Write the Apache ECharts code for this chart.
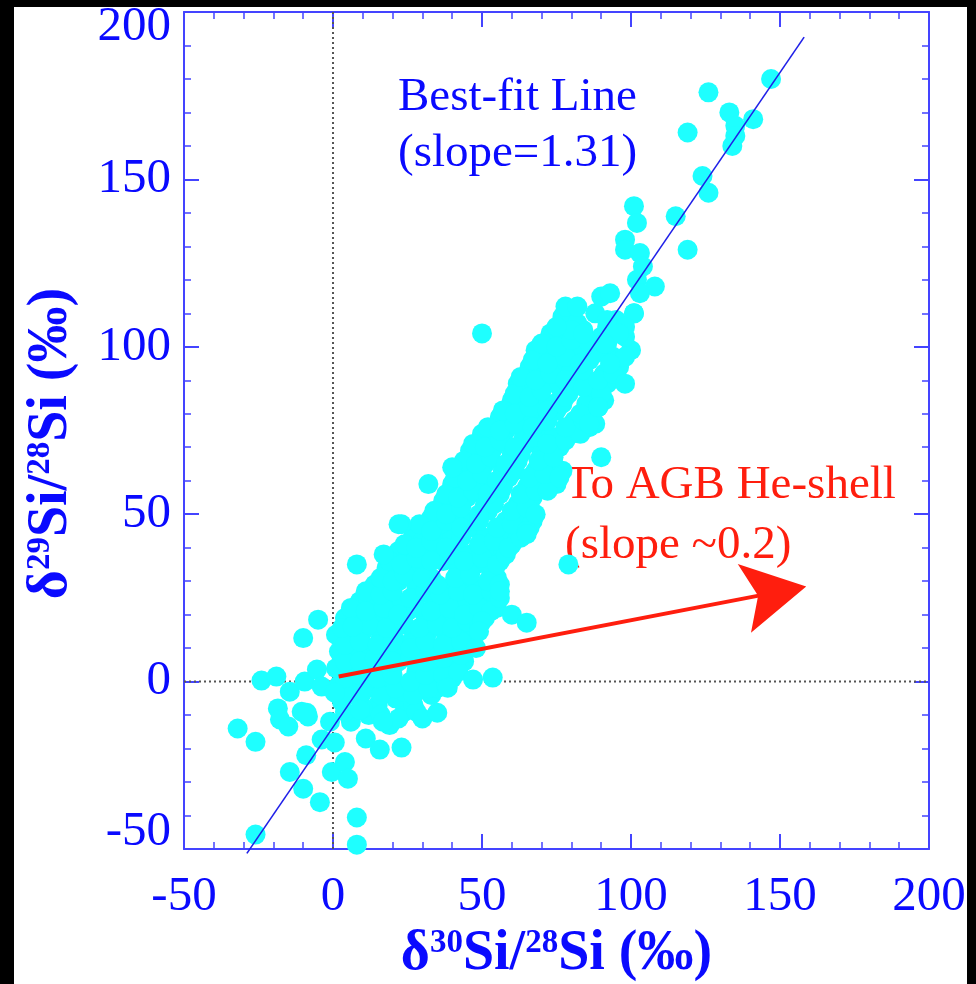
<!DOCTYPE html>
<html>
<head>
<meta charset="utf-8">
<script src="https://cdn.jsdelivr.net/npm/echarts@6/dist/echarts.min.js"></script>
<style>
html,body{margin:0;padding:0;background:#000;width:976px;height:984px;overflow:hidden;}
#c{position:absolute;left:14px;top:7px;width:953px;height:977px;background:#fff;}
</style>
</head>
<body>
<div id="c"></div>
<script>
// ---- data (per mil) ----
const xTicks = [-50, 0, 50, 100, 150, 200];
const yTicks = [-50, 0, 50, 100, 150, 200];

const coreGrains = [
[6,-12],[12,-10],[19,-13],[24,-9],[3,-6],[9,-5],[15,-7],[21,-5],[27,-7],[33,-4],
[2,-1],[7,-2],[13,-1],[18,0],[24,-3],[30,-1],[35,-2],[40,1],
[1,4],[6,3],[11,5],[17,3],[22,6],[28,3],[33,5],[39,4],[44,6],
[2,9],[7,8],[12,10],[18,8],[23,11],[29,8],[34,10],[40,9],[46,11],
[1,14],[5,12],[10,15],[16,13],[21,16],[27,13],[32,15],[38,13],[43,16],[47,13],
[4,19],[9,18],[14,20],[20,18],[25,21],[31,18],[36,20],[42,18],[47,21],[51,19],
[9,24],[13,22],[18,25],[23,23],[29,26],[34,23],[40,25],[45,23],[51,24],[55,22],
[14,29],[18,27],[22,30],[28,28],[33,31],[39,28],[44,30],[50,28],[55,31],
[18,34],[21,32],[26,35],[31,33],[37,36],[42,33],[48,35],[53,33],[56,36],
[22,39],[25,37],[30,40],[35,38],[41,41],[46,38],[52,40],[57,38],[60,41],
[27,44],[30,42],[35,45],[40,43],[46,46],[51,43],[57,45],[62,43],[66,46],
[33,49],[36,47],[41,50],[47,48],[52,51],[58,48],[63,50],[67,48],
[37,54],[40,52],[45,55],[51,53],[56,56],[62,53],[67,55],[69,58],
[40,59],[43,57],[48,60],[54,58],[59,61],[65,58],[70,60],[75,59],
[43,64],[46,62],[51,65],[57,63],[62,66],[68,63],[73,65],[77,63],
[46,69],[49,67],[54,70],[60,68],[65,71],[70,68],[76,70],
[50,74],[53,72],[58,75],[64,73],[69,76],[74,73],[80,74],[86,76],
[56,79],[59,77],[64,80],[70,78],[75,81],[81,78],[87,80],
[60,84],[63,82],[68,85],[74,83],[79,86],[85,83],[91,84],
[62,89],[65,87],[71,90],[76,88],[82,91],[87,88],[92,89],
[66,94],[69,92],[75,95],[80,93],[86,96],[91,92],[96,94],
[68,99],[72,97],[77,100],[83,98],[88,101],[94,97],[100,99],
[73,104],[78,102],[84,105],[90,103],[96,106],
[77,109],[82,107],[88,110],[95,108],[101,110]
];

const coreGrainsFill = [
[4,-9],[10,-8],[16,-10],[22,-11],[28,-9],
[5,-4],[10,-3],[16,-4],[21,-2],[27,-4],[32,-2],[38,-1],
[4,1],[9,2],[15,1],[20,2],[26,0],[31,2],[37,2],[42,3],
[4,6],[9,6],[14,7],[20,6],[26,7],[31,6],[37,7],[43,8],
[4,11],[9,12],[15,11],[20,12],[26,10],[31,12],[37,11],[43,12],[48,10],
[3,16],[7,17],[12,17],[18,16],[24,17],[29,16],[35,17],[40,16],[45,18],[49,17],
[6,22],[11,21],[17,22],[22,20],[28,22],[33,21],[39,22],[44,20],[49,22],[53,21],
[11,27],[16,26],[20,27],[26,25],[31,27],[36,26],[42,27],[47,26],[53,27],[56,25],
[16,31],[20,30],[24,32],[30,31],[35,29],[41,31],[46,32],[52,30],[56,29],
[19,36],[23,35],[28,37],[33,36],[39,38],[44,36],[50,37],[55,35],[58,38],
[24,41],[28,40],[33,42],[38,40],[43,43],[49,41],[54,42],[59,40],[63,43],
[29,47],[33,45],[38,48],[43,46],[49,48],[55,46],[60,47],[65,45],
[34,51],[38,50],[43,52],[49,50],[54,53],[60,51],[65,52],[68,50],
[38,56],[42,55],[47,57],[52,56],[57,58],[63,56],[68,57],[72,57],
[41,61],[45,60],[50,62],[55,60],[61,63],[66,61],[71,62],[76,61],
[44,66],[48,65],[53,67],[58,65],[63,68],[69,66],[74,67],
[47,71],[51,70],[56,72],[61,70],[67,73],[72,71],[78,72],[83,74],
[52,76],[56,75],[61,77],[67,76],[72,78],[78,76],[84,78],[88,77],
[57,81],[61,80],[66,82],[72,81],[77,83],[83,80],[89,82],
[61,86],[66,85],[70,87],[78,85],[84,88],[90,86],
[63,91],[68,90],[73,92],[78,90],[84,93],[89,90],[94,92],
[67,96],[72,95],[78,97],[83,95],[88,98],[93,96],[98,97],
[70,101],[75,100],[80,102],[86,101],[92,101],[98,103],
[80,105],[92,106]
];

const upperGrains = [
[147,180],[126,176],[133,170],[141,168],[135,166],[135,163],[134,160],[119,164],
[124,151],[126,146],[101,142],[115,139],[102,137],[119,129],[98,132],[98,129],
[103,128],[104,124],[102,120],[108,118],[103,116],[101,110],[90,115],[93,116],
[78,112],[82,112],[75,106],[84,104],[98,106],[92,108],[96,104],[91,101],[98,89],
[90,67],[65,44],[79,35],[50,104],[32,59],[23,47],[40,64],[8,35],[17,38],[22,47],
[86,77],[89,82],[93,95]
];

const lowerGrains = [
[-5,18.5],[-10,13],[-24,0.3],[-19,1.5],[-14.5,-3],[-9.5,0],[-5.4,3.6],[-3.8,-1.5],
[0.6,-3.3],[-18.5,-8],[-17.8,-11.3],[-15,-13.4],[-10.5,-9],[-8.4,-10.4],[-32,-14],
[-26,-18],[-1,-12],[-3.8,-17.3],[0.6,-18.2],[-9,-22],[-14.5,-27],[-10,-32],[-4.4,-36],
[-0.4,-27],[4,-24],[5,-29],[8,-40.6],[8,-48.7],[-26,-45.7],[11,-17],[15.7,-20.3],
[23,-19.7],[30,-11],[35,-9.3],[6.6,16.4],[9,-8.4],[16.7,-12],[47,0.6],[53.6,1.2],
[60,20],[65,17.6],[56,27],[50,18],[49,15],[38.5,-1.8],[-8.8,-9.3]
];

const fitLine = [[-28.9,-51.3],[158.1,192.5]];
const heShellArrow = [[1.9,1.5,158.8,28.4]];
const zeroV = [[0,-50],[0,200]];
const zeroH = [[-50,0],[200,0]];

// ---- styling ----
const BLUE = '#0a0aff';
const AXIS = '#4444ff';
const RED = '#ff1e0e';
const FONT = '"Liberation Serif", "Times New Roman", serif';

const chart = echarts.init(document.getElementById('c'), null, {renderer: 'canvas'});

function axisCommon(showLabels){
  return {
    type: 'value', min: -50, max: 200, interval: 50,
    axisLine: {show: true, onZero: false, lineStyle: {color: AXIS, width: 2}},
    axisTick: {show: true, inside: true, length: 15, lineStyle: {color: AXIS, width: 2}},
    minorTick: {show: true, splitNumber: 5, length: 7, lineStyle: {color: AXIS, width: 1.5}},
    splitLine: {show: false},
    minorSplitLine: {show: false},
    axisLabel: {show: showLabels}
  };
}

const titleRich = {
  b: {fontFamily: FONT, fontSize: 56, fontWeight: 'bold', color: BLUE},
  s: {fontFamily: FONT, fontSize: 33, fontWeight: 'bold', color: BLUE, verticalAlign: 'top'}
};

const xBottom = Object.assign(axisCommon(true), {
  position: 'bottom',
  axisLabel: {show: true, color: BLUE, fontFamily: FONT, fontSize: 49, margin: 24},
  name: '{b|δ}{s|30}{b|Si/}{s|28}{b|Si (‰)}',
  nameLocation: 'middle', nameGap: 78,
  nameTextStyle: {rich: titleRich}
});
const xTop = Object.assign(axisCommon(false), {position: 'top'});

const yLeft = Object.assign(axisCommon(true), {
  position: 'left',
  axisLabel: {
    show: true, color: BLUE, fontFamily: FONT, fontSize: 49, margin: 13,
    formatter: function (v) {
      if (v === 200) return '{t|' + v + '}';
      if (v === -50) return '{m|' + v + '}';
      return String(v);
    },
    rich: {
      t: {fontFamily: FONT, fontSize: 49, color: BLUE, padding: [30, 0, 0, 0]},
      m: {fontFamily: FONT, fontSize: 49, color: BLUE, padding: [0, 0, 34, 0]}
    }
  },
  name: '{b|δ}{s|29}{b|Si/}{s|28}{b|Si (‰)}',
  nameLocation: 'middle', nameGap: 104,
  nameTextStyle: {rich: titleRich, padding: [0, 26, 0, 0]}
});
const yRight = Object.assign(axisCommon(false), {position: 'right'});

const option = {
  animation: false,
  backgroundColor: '#ffffff',
  grid: {left: 170, top: 5, right: 38, bottom: 135, containLabel: false, outerBoundsMode: 'none'},
  xAxis: [xBottom, xTop],
  yAxis: [yLeft, yRight],
  series: [
    {type: 'line', data: zeroV, symbol: 'none', silent: true,
     lineStyle: {color: '#555', width: 2, type: [2, 3]}, z: 1},
    {type: 'line', data: zeroH, symbol: 'none', silent: true,
     lineStyle: {color: '#555', width: 2, type: [2, 3]}, z: 1},
    {type: 'scatter', data: coreGrains.concat(coreGrainsFill, upperGrains, lowerGrains),
     symbol: 'circle', symbolSize: 20, itemStyle: {color: '#1effff', opacity: 1}, z: 2},
    {type: 'line', data: fitLine, symbol: 'none', clip: false,
     lineStyle: {color: '#2020e8', width: 1.6}, z: 3},
    {type: 'custom', data: heShellArrow, clip: false, z: 4,
     encode: {x: [0, 2], y: [1, 3]},
     renderItem: function (params, api) {
       const p1 = api.coord([api.value(0), api.value(1)]);
       const p2 = api.coord([api.value(2), api.value(3)]);
       const dx = p2[0] - p1[0], dy = p2[1] - p1[1];
       const L = Math.hypot(dx, dy);
       const ux = dx / L, uy = dy / L, nx = -uy, ny = ux;
       const headLen = 63, halfW = 35, notch = 49;
       const bx = p2[0] - ux * headLen, by = p2[1] - uy * headLen;
       const n = [p2[0] - ux * notch, p2[1] - uy * notch];
       return {
         type: 'group',
         children: [
           {type: 'line', shape: {x1: p1[0], y1: p1[1], x2: n[0] + ux * 2, y2: n[1] + uy * 2},
            style: {stroke: RED, lineWidth: 4}},
           {type: 'polygon',
            shape: {points: [p2, [bx + nx * halfW, by + ny * halfW], n, [bx - nx * halfW, by - ny * halfW]]},
            style: {fill: RED}}
         ]
       };
     }}
  ],
  graphic: [
    {type: 'text', x: 384, y: 91, silent: true,
     style: {text: 'Best-fit Line', fontFamily: FONT, fontSize: 47, fill: BLUE, align: 'left', verticalAlign: 'middle'}},
    {type: 'text', x: 384, y: 147, silent: true,
     style: {text: '(slope=1.31)', fontFamily: FONT, fontSize: 47, fill: BLUE, align: 'left', verticalAlign: 'middle'}},
    {type: 'text', x: 551, y: 479, silent: true,
     style: {text: 'To AGB He-shell', fontFamily: FONT, fontSize: 47, fill: RED, align: 'left', verticalAlign: 'middle'}},
    {type: 'text', x: 551, y: 539, silent: true,
     style: {text: '(slope ~0.2)', fontFamily: FONT, fontSize: 47, fill: RED, align: 'left', verticalAlign: 'middle'}}
  ]
};
chart.setOption(option);
</script>
</body>
</html>
